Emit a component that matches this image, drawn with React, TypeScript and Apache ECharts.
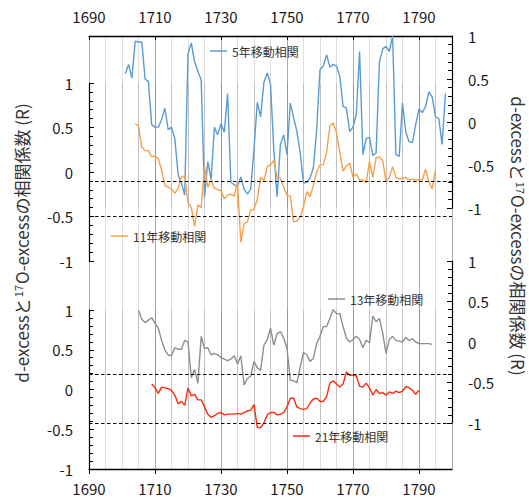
import React, { useEffect, useRef } from "react";
import * as echarts from "echarts";

// ---- data ----
const START_5 = 1701;
const R5 = [
  0.56, 0.67, 0.51, 0.94, 0.93, 0.93, 0.5, 0.47, -0.03,
  -0.06, -0.06, 0.03, 0.16, -0.09, -0.06, -0.19, -0.61, -0.71, -0.85,
  0.79, 0.92, 0.7, 0.59, 0.49, -0.87, -0.46, -0.67, -0.06, -0.15,
  -0.02, -0.12, 0.33, -0.7, -0.73, -0.75, -0.64, -0.78, -0.84, -0.78,
  -0.32, 0.23, 0.06, 0.46, 0.57, 0.44, -0.32, -0.87, -0.26, -0.15,
  -0.38, 0.22, 0.05, -0.11, -0.36, -0.71, -0.7, -0.65, -0.53, -0.09,
  0.61, 0.65, 0.78, 0.64, 0.67, 0.65, 0.53, 0.18, 0.16, -0.11,
  -0.06, 0.09, 0.82, -0.38, -0.19, -0.18, -0.39, -0.36, 0.7, 0.85,
  0.88, 0.82, 1.0, -0.38, -0.4, 0.22, -0.12, -0.23, -0.24, -0.03,
  0.15, 0.11, 0.18, 0.35, 0.29, 0.06, 0.04, -0.26, 0.33,
];

const START_11 = 1704;
const R11 = [
  0.54, 0.52, 0.28, 0.24, 0.24, 0.17,
  0.18, 0.15, 0.02, -0.15, -0.17, -0.19, -0.24, -0.18, -0.06, -0.04,
  -0.34, -0.4, -0.61, -0.37, -0.4, 0.06, -0.17, -0.09, -0.18, -0.2,
  -0.21, -0.3, -0.26, -0.25, -0.27, -0.11, -0.79, -0.58, -0.56, -0.43,
  -0.42, -0.31, -0.06, -0.1, 0.06, 0.08, 0.13, -0.06, -0.07, -0.17,
  -0.26, -0.27, -0.56, -0.55, -0.51, -0.39, -0.22, -0.28, -0.15, 0.0,
  0.08, 0.08, 0.22, 0.52, 0.55, 0.44, 0.22, 0.01, 0.07, 0.1,
  -0.06, -0.02, -0.09, -0.09, -0.12, 0.12, -0.06, 0.16, 0.17, 0.13,
  -0.11, -0.06, 0.06, -0.06, -0.08, -0.07, -0.06, -0.09, -0.08, -0.09,
  -0.09, -0.09, 0.03, -0.11, -0.19, 0.02,
];

const START_13 = 1705;
const R13 = [
  0.39, 0.28, 0.24, 0.27, 0.3,
  0.23, 0.17, 0.02, -0.1, -0.16, -0.17, -0.07, -0.09, -0.09, 0.02,
  0.0, -0.44, -0.34, -0.51, 0.07, -0.08, -0.07, -0.16, -0.14, -0.16,
  -0.19, -0.21, -0.23, -0.21, -0.17, -0.27, -0.17, -0.53, -0.45, -0.42,
  -0.24, -0.32, -0.35, -0.04, 0.03, 0.17, -0.04, 0.1, 0.13, 0.05,
  -0.08, -0.47, -0.48, -0.5, -0.31, -0.13, -0.16, -0.24, -0.2, -0.02,
  0.07, 0.19, 0.19, 0.29, 0.4, 0.35, 0.35, 0.19, 0.05, 0.0,
  0.03, 0.07, 0.03, -0.07, 0.02, -0.01, 0.32, 0.25, 0.29, 0.11,
  -0.14, 0.03, 0.07, 0.02, 0.01, 0.0, 0.06, 0.02, 0.04, 0.0,
  -0.02, -0.02, -0.02, -0.02, -0.03,
];

const START_21 = 1709;
const R21 = [
  0.07,
  0.02, -0.05, 0.03, 0.02, 0.01, -0.01, -0.07, -0.18, -0.15, -0.2,
  0.02, -0.08, -0.06, -0.13, -0.13, -0.22, -0.31, -0.35, -0.33, -0.3,
  -0.29, -0.32, -0.31, -0.31, -0.31, -0.3, -0.31, -0.29, -0.27, -0.26,
  -0.19, -0.48, -0.48, -0.42, -0.32, -0.29, -0.29, -0.32, -0.31, -0.29,
  -0.22, -0.11, -0.11, -0.22, -0.24, -0.25, -0.24, -0.17, -0.12, -0.11,
  -0.15, -0.15, -0.09, 0.08, 0.11, 0.07, 0.03, 0.07, 0.22, 0.18,
  0.18, 0.17, 0.04, 0.03, 0.08, 0.02, -0.07, 0.0, -0.05, -0.04,
  -0.07, -0.03, -0.05, -0.02, -0.04, -0.02, 0.04, 0.02, -0.01, -0.06,
  -0.01,
];

const SERIES_NAMES = ["5年移動相関", "11年移動相関", "13年移動相関", "21年移動相関"];
const SIG_UPPER = [-0.1, -0.5];
const SIG_LOWER = [0.19, -0.43];
const X_MIN = 1690;
const X_MAX = 1800;
const Y_MIN = -1;
const Y_MAX = 1;
const TITLE_TEXT = "d-excessと{sup|17}O-excessの相関係数 (R)";

const FONT = '"Noto Sans CJK JP", "Noto Sans", sans-serif';
const TXT = "#1a1a1a";

const toPairs = (start: number, vals: number[]) => vals.map((v, i) => [start + i, v]);

export default function App() {
  const ref = useRef<HTMLDivElement>(null);
  useEffect(() => {
    if (!ref.current) return;
    const chart = echarts.init(ref.current, null, { renderer: "svg" });
    const L = 89;
    const R = 77;
    const grids = [
      { left: L, right: R, top: 36, height: 172 },
      { left: L, right: R, top: 83, height: 178 },
      { left: L, right: R, top: 261, height: 162 },
      { left: L, right: R, top: 310, height: 159 },
      { left: L, right: R, top: 36, height: 433 },
    ];
    const gridX = (i: number) => ({
      gridIndex: i,
      type: "value",
      min: X_MIN,
      max: X_MAX,
      interval: 5,
      axisLine: { show: false, onZero: false },
      axisTick: { show: false },
      axisLabel: { show: false },
      splitLine: { show: true, lineStyle: { color: "rgba(0,0,0,0.13)", width: 1 } },
    });
    const yAx = (i: number, pos: "left" | "right") => ({
      gridIndex: i,
      type: "value",
      position: pos,
      min: Y_MIN,
      max: Y_MAX,
      interval: 0.5,
      axisLine: { show: true, onZero: false, lineStyle: { color: "#000", width: 1.2 } },
      axisTick: { show: true, inside: true, length: 5, lineStyle: { color: "#000", width: 1 } },
      minorTick: { show: true, splitNumber: 5, length: 4, lineStyle: { color: "#000", width: 1 } },
      axisLabel: { fontSize: 15, color: TXT, margin: 16, fontFamily: FONT },
      splitLine: { show: false },
    });
    const colors = ["#5b9bd5", "#f9a04c", "#8e8e8e", "#ff2a0a"];
    const dashed = (vals: number[]) => ({
      silent: true,
      symbol: "none",
      label: { show: false },
      lineStyle: { color: "#000", type: [3.5, 2.5], width: 1.2 },
      data: vals.map((v) => ({ yAxis: v })),
    });
    const legendAt = (name: string, left: number, top: number) => ({
      data: [name],
      left,
      top,
      padding: 0,
      icon: "rect",
      itemWidth: 17,
      itemHeight: 1.5,
      textStyle: { fontSize: 12, color: "#333", fontFamily: FONT },
    });
    const titleStyle = {
      text: TITLE_TEXT,
      fontSize: 17,
      fontFamily: FONT,
      fill: "#333",
      align: "center",
      verticalAlign: "middle",
      rich: {
        sup: { fontSize: 11, fontFamily: FONT, fill: "#333", verticalAlign: "top", padding: [0, 1, 6, 1] },
      },
    };
    const yearLabel = (v: number) => String(v);
    chart.setOption({
      animation: false,
      grid: grids,
      xAxis: [
        gridX(0),
        gridX(1),
        gridX(2),
        gridX(3),
        {
          gridIndex: 4,
          type: "value",
          position: "bottom",
          min: X_MIN,
          max: X_MAX,
          interval: 20,
          axisLine: { show: true, onZero: false, lineStyle: { color: "#000", width: 1.3 } },
          axisTick: { show: true, length: 5, lineStyle: { color: "#000" } },
          axisLabel: { fontSize: 15, color: TXT, margin: 12, fontFamily: FONT, showMaxLabel: false, formatter: yearLabel },
          splitLine: { show: true, lineStyle: { color: "rgba(0,0,0,0.22)", width: 1 } },
        },
        {
          gridIndex: 4,
          type: "value",
          position: "top",
          min: X_MIN,
          max: X_MAX,
          interval: 20,
          axisLine: { show: true, onZero: false, lineStyle: { color: "#000", width: 1.3 } },
          axisTick: { show: true, inside: true, length: 4, lineStyle: { color: "#000" } },
          axisLabel: { fontSize: 15, color: TXT, margin: 12, fontFamily: FONT, showMaxLabel: false, formatter: yearLabel },
          splitLine: { show: false },
        },
      ],
      yAxis: [
        yAx(0, "right"),
        yAx(1, "left"),
        yAx(2, "right"),
        yAx(3, "left"),
        { gridIndex: 4, type: "value", min: Y_MIN, max: Y_MAX, show: false },
      ],
      legend: [
        legendAt(SERIES_NAMES[0], 210, 45),
        legendAt(SERIES_NAMES[1], 111, 230),
        legendAt(SERIES_NAMES[2], 328, 293),
        legendAt(SERIES_NAMES[3], 293, 430),
      ],
      series: [
        {
          name: SERIES_NAMES[0],
          type: "line",
          xAxisIndex: 0,
          yAxisIndex: 0,
          symbol: "none",
          lineStyle: { color: colors[0], width: 1.4 },
          itemStyle: { color: colors[0] },
          data: toPairs(START_5, R5),
        },
        {
          name: SERIES_NAMES[1],
          type: "line",
          xAxisIndex: 1,
          yAxisIndex: 1,
          symbol: "none",
          lineStyle: { color: colors[1], width: 1.4 },
          itemStyle: { color: colors[1] },
          data: toPairs(START_11, R11),
          markLine: dashed(SIG_UPPER),
        },
        {
          name: SERIES_NAMES[2],
          type: "line",
          xAxisIndex: 2,
          yAxisIndex: 2,
          symbol: "none",
          lineStyle: { color: colors[2], width: 1.4 },
          itemStyle: { color: colors[2] },
          data: toPairs(START_13, R13),
        },
        {
          name: SERIES_NAMES[3],
          type: "line",
          xAxisIndex: 3,
          yAxisIndex: 3,
          symbol: "none",
          lineStyle: { color: colors[3], width: 1.4 },
          itemStyle: { color: colors[3] },
          data: toPairs(START_21, R21),
          markLine: dashed(SIG_LOWER),
        },
      ],
      graphic: [
        { type: "text", x: 21, y: 243, rotation: Math.PI / 2, style: titleStyle },
        { type: "text", x: 518, y: 236, rotation: -Math.PI / 2, style: titleStyle },
      ],
    });
    return () => chart.dispose();
  }, []);
  return (
    <div
      ref={ref}
      style={{ position: "absolute", left: 0, top: 0, width: 529, height: 499 }}
    />
  );
}
